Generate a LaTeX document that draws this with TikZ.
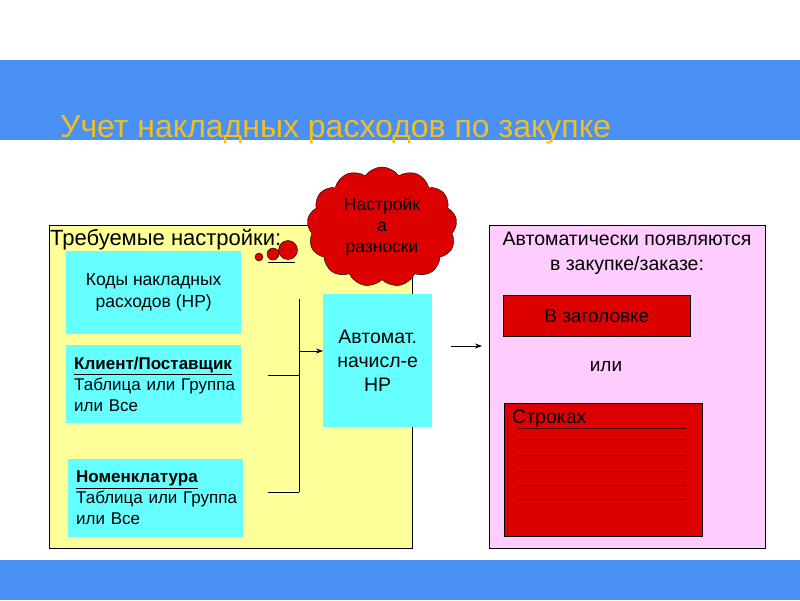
\documentclass[tikz,border=0pt]{standalone}
\usepackage{fontspec}
\setmainfont{Liberation Sans}
\usetikzlibrary{shapes.symbols,arrows.meta}
\definecolor{band}{HTML}{4A90F5}
\definecolor{pyel}{HTML}{FFFF99}
\definecolor{ppink}{HTML}{FFCCFF}
\definecolor{cyanb}{HTML}{66FFFF}
\definecolor{redb}{HTML}{DD0000}
\definecolor{ttl}{HTML}{F0C020}
\tikzset{
  cbox/.style={fill=cyanb,draw=none,inner sep=2pt},
  rbox/.style={fill=redb,draw=black,line width=0.6pt},
  conn/.style={black,line width=0.8pt},
  arr/.style={conn,-{Stealth[length=7pt,width=5pt]}},
}
\begin{document}
\begin{tikzpicture}[x=1pt,y=-1pt]
\useasboundingbox (0,0) rectangle (800,600);
\fill[white] (0,0) rectangle (800,600);
\fill[band] (0,60) rectangle (800,140);
\fill[band] (0,560) rectangle (800,600);
\node[anchor=west,text=ttl,font=\fontsize{32}{36}\selectfont,inner sep=0] (title) at (60,130) {Учет накладных расходов по закупке};
% panels
\node[draw=black,fill=pyel,minimum width=363,minimum height=323,anchor=north west,inner sep=0] (left) at (49,225) {};
\node[draw=black,fill=ppink,minimum width=276,minimum height=323,anchor=north west,inner sep=0] (right) at (489,225) {};
\node[anchor=west,font=\fontsize{22}{24}\selectfont,inner sep=0] (req) at (50,240) {Требуемые настройки:};
% cyan boxes
\node[cbox,minimum width=175,minimum height=83,anchor=north west,font=\fontsize{17.5}{22}\selectfont,align=center] (codes) at (66,251) {Коды накладных\\расходов (НР)};
\node[cbox,minimum width=175,minimum height=78,anchor=north west,font=\fontsize{17}{21}\selectfont,align=left,text width=175,inner sep=0] (client) at (66,345) {\hspace*{8pt}\textbf{\underline{Клиент/Поставщик}}\\\hspace*{8pt}Таблица или Группа\\\hspace*{8pt}или Все};
\node[cbox,minimum width=175,minimum height=78,anchor=north west,font=\fontsize{17}{21}\selectfont,align=left,text width=175,inner sep=0] (nom) at (68,459) {\hspace*{8pt}\textbf{\underline{Номенклатура}}\\\hspace*{8pt}Таблица или Группа\\\hspace*{8pt}или Все};
\node[cbox,minimum width=109,minimum height=133,anchor=north west,font=\fontsize{19.5}{24}\selectfont,align=center] (auto) at (323,294) {Автомат.\\начисл-е\\НР};
% connectors
\coordinate (t1) at (299,299);
\coordinate (t3) at (299,492);
\coordinate (a1) at (268,375);
\coordinate (a2) at (299,375);
\coordinate (b1) at (268,492);
\coordinate (c1) at (299,351);
\draw[conn] (t1) -- (t3);
\draw[conn] (a1) -- (a2);
\draw[conn] (b1) -- (t3);
\draw[arr] (c1) -- (auto.west |- c1);
\coordinate (d1) at (451,346);
\coordinate (d2) at (482,346);
\draw[arr] (d1) -- (d2);
% cloud
\fill[redb,draw=black] (259,257) circle (4);
\fill[redb,draw=black] (273,254) circle (6);
\fill[redb,draw=black] (288,250) circle (9.5);
\coordinate (u1) at (268,262); \coordinate (u2) at (295,262);
\draw[conn] (u1) -- (u2);
\node[cloud,cloud puffs=13,cloud puff arc=110,aspect=1.15,fill=redb,draw=black,minimum width=150,minimum height=120,font=\fontsize{17.5}{21}\selectfont,align=center,inner sep=0] (cloud) at (382,227) {Настройк\\а\\разноски};
% right
\node[align=center,font=\fontsize{19.5}{25}\selectfont] (appear) at (627,253) {Автоматически появляются\\в закупке/заказе:};
\node[rbox,minimum width=187,minimum height=41,anchor=north west,font=\fontsize{19}{22}\selectfont] (head) at (503,295) {В заголовке};
\node[font=\fontsize{19}{22}\selectfont] (or) at (606,367) {или};
\node[rbox,minimum width=198,minimum height=133,anchor=north west] (rows) at (504,403) {};
\node[anchor=west,font=\fontsize{19.5}{22}\selectfont,inner sep=0] (rtxt) at (512,419) {Строках};
\foreach \yy in {428,439,455,471,485,499} {
  \draw[black!70!red,line width=0.6pt] (518,\yy) -- (686,\yy);
}
\end{tikzpicture}
\end{document}
